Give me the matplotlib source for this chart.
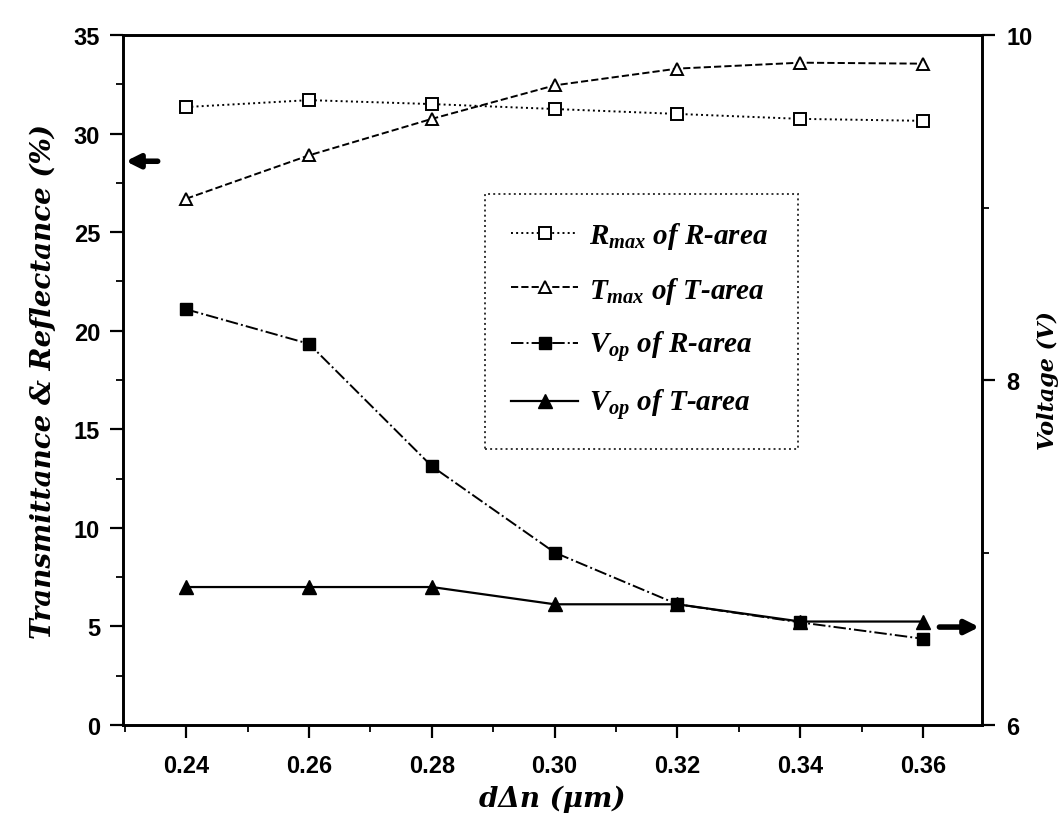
import matplotlib
matplotlib.use('Agg')
import matplotlib.pyplot as plt
from matplotlib.ticker import MultipleLocator
from matplotlib.font_manager import FontProperties

plt.rcParams['mathtext.fontset'] = 'custom'
plt.rcParams['mathtext.rm'] = 'Liberation Serif:bold:italic'
plt.rcParams['mathtext.it'] = 'Liberation Serif:bold:italic'
plt.rcParams['mathtext.bf'] = 'Liberation Serif:bold:italic'

# d*delta n (um)
d_dn = [0.24, 0.26, 0.28, 0.30, 0.32, 0.34, 0.36]
# left axis (%)
r_max = [31.35, 31.7, 31.5, 31.25, 31.0, 30.75, 30.65]
t_max = [26.7, 28.9, 30.75, 32.45, 33.3, 33.6, 33.55]
# right axis (V)
vop_r = [8.41, 8.21, 7.50, 7.00, 6.70, 6.595, 6.50]
vop_t = [6.80, 6.80, 6.80, 6.70, 6.70, 6.60, 6.60]

labels = [r'$R_{max}$ of R-area', r'$T_{max}$ of T-area',
          r'$V_{op}$ of R-area', r'$V_{op}$ of T-area']

fig = plt.figure(figsize=(10.64, 8.2), dpi=100)
ax = fig.add_axes([0.1156, 0.1146, 0.8074, 0.8414])
ax2 = ax.twinx()

l1, = ax.plot(d_dn, r_max, ls=':', lw=1.4, color='k', marker='s', ms=8,
              mfc='white', mec='k', mew=1.4)
l2, = ax.plot(d_dn, t_max, ls='--', lw=1.4, color='k', marker='^', ms=9,
              mfc='white', mec='k', mew=1.4)
l3, = ax2.plot(d_dn, vop_r, ls='-.', lw=1.4, color='k', marker='s', ms=8,
               mfc='k', mec='k')
l4, = ax2.plot(d_dn, vop_t, ls='-', lw=1.6, color='k', marker='^', ms=10,
               mfc='k', mec='k')

ax.set_xlim(0.2297, 0.3696)
ax.set_ylim(0, 35)
ax2.set_ylim(6, 10)

ax.xaxis.set_major_locator(MultipleLocator(0.02))
ax.xaxis.set_minor_locator(MultipleLocator(0.01))
ax.yaxis.set_major_locator(MultipleLocator(5))
ax.yaxis.set_minor_locator(MultipleLocator(2.5))
ax2.yaxis.set_major_locator(MultipleLocator(2))
ax2.yaxis.set_minor_locator(MultipleLocator(1))
ax.xaxis.set_major_formatter(plt.FuncFormatter(lambda v, p: f'{v:.2f}'))

tick_fp = FontProperties(family='Liberation Sans', weight='bold', size=17)
for a in (ax, ax2):
    a.tick_params(which='major', direction='out', length=9.5, width=1.6)
    a.tick_params(which='minor', direction='out', length=5, width=1.3)
    for s in a.spines.values():
        s.set_linewidth(1.9)
ax.tick_params(axis='x', which='major', pad=11)
ax.tick_params(axis='y', which='major', pad=7)
ax2.tick_params(axis='y', which='major', pad=8)
for lab in ax.get_xticklabels() + ax.get_yticklabels() + ax2.get_yticklabels():
    lab.set_fontproperties(tick_fp)

label_font = dict(family='DejaVu Serif', weight='bold', style='italic', size=20)
ax.set_ylabel('Transmittance & Reflectance (%)', labelpad=12, **label_font)
ax2.set_ylabel('Voltage (V)', rotation=90, labelpad=3,
               family='DejaVu Serif', weight='bold', style='italic', size=16)
ax.set_xlabel('dΔn (μm)', labelpad=6, **label_font)

# arrows showing which axis each group belongs to
ax.annotate('', xy=(0.2297, 28.6), xytext=(0.2358, 28.6),
            arrowprops=dict(arrowstyle='-|>', color='k', lw=4, mutation_scale=20))
ax2.annotate('', xy=(0.3696, 6.568), xytext=(0.3622, 6.568),
             arrowprops=dict(arrowstyle='-|>', color='k', lw=4, mutation_scale=20))

leg = ax.legend([l1, l2, l3, l4], labels, loc='upper left',
                bbox_to_anchor=(0.4214, 0.7596, 0.3644, 0.01), mode='expand',
                frameon=True, fancybox=False, edgecolor='k', handlelength=2.3,
                borderpad=0.9, labelspacing=0.8, handletextpad=0.35,
                borderaxespad=0,
                prop=dict(family='Liberation Serif', weight='bold', style='italic', size=21))
leg.get_frame().set_linewidth(1.4)
leg.get_frame().set_linestyle(':')

fig.savefig('out.png', dpi=100)
